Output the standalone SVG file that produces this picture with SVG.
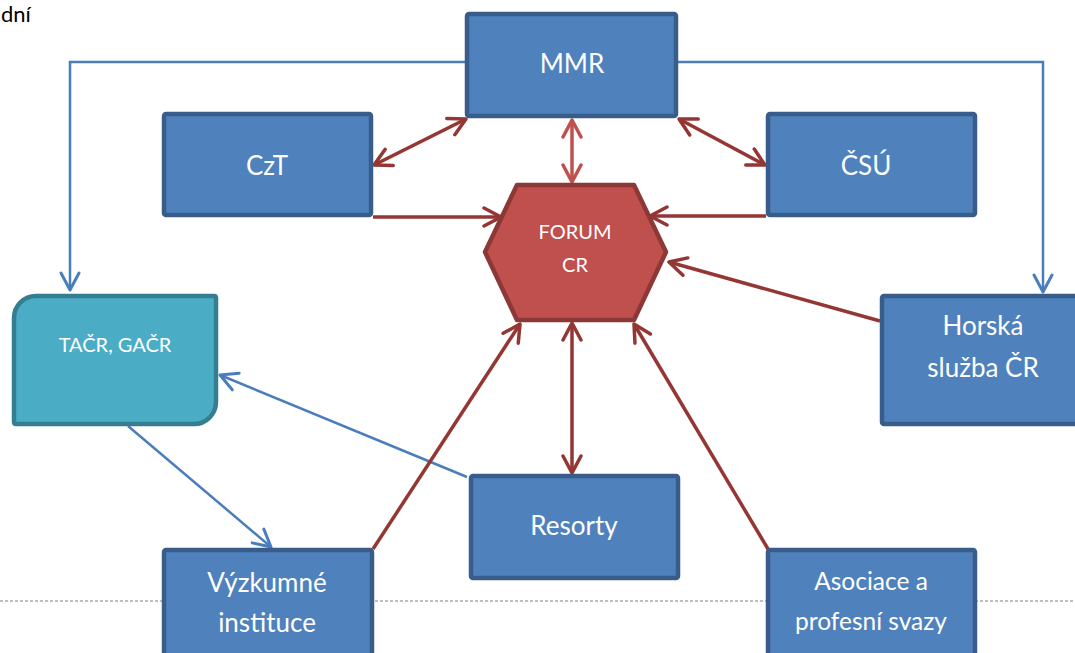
<svg xmlns="http://www.w3.org/2000/svg" width="1075" height="653" viewBox="0 0 1075 653">
  <style>
    .box { fill: #4f81bd; stroke: #385d8a; stroke-width: 4.5; }
    .lbl { font-family: Lato, "Open Sans", "Liberation Sans", sans-serif; fill: #ffffff; text-anchor: middle; }
    .big { font-size: 26px; }
    .mid { font-size: 24.5px; }
    .sm { font-size: 20px; }
    .red { stroke: #943634; stroke-width: 3.5; fill: none; }
    .redL { stroke: #c0504d; stroke-width: 3.5; fill: none; }
    .blue { stroke: #4a7ebb; stroke-width: 2.5; fill: none; }
  </style>
  <defs>
    <marker id="aRed" viewBox="0 0 22 22" refX="19" refY="11" markerWidth="22" markerHeight="22" markerUnits="userSpaceOnUse" orient="auto-start-reverse">
      <path d="M2,2 L19,11 L2,20" fill="none" stroke="#943634" stroke-width="3.5" stroke-linecap="round" stroke-linejoin="round"/>
    </marker>
    <marker id="aRedL" viewBox="0 0 22 22" refX="19" refY="11" markerWidth="22" markerHeight="22" markerUnits="userSpaceOnUse" orient="auto-start-reverse">
      <path d="M2,2 L19,11 L2,20" fill="none" stroke="#c0504d" stroke-width="3.5" stroke-linecap="round" stroke-linejoin="round"/>
    </marker>
    <marker id="aBlue" viewBox="0 0 22 22" refX="19" refY="11" markerWidth="22" markerHeight="22" markerUnits="userSpaceOnUse" orient="auto-start-reverse">
      <path d="M2,2 L19,11 L2,20" fill="none" stroke="#4a7ebb" stroke-width="3" stroke-linecap="round" stroke-linejoin="round"/>
    </marker>
  </defs>

  <rect width="1075" height="653" fill="#ffffff"/>

  <!-- page fragment and separator line -->
  <text x="1" y="22" font-family="Lato, 'Open Sans', sans-serif" font-size="22" fill="#000000">dní</text>
  <line x1="0" y1="601" x2="1075" y2="601" stroke="#7f7f7f" stroke-width="1" stroke-dasharray="3,2"/>

  <g id="connectors">
    <!-- blue flows -->
    <polyline class="blue" points="467,62 70,62 70,290" marker-end="url(#aBlue)"/>
    <polyline class="blue" points="676,62 1043,62 1043,292" marker-end="url(#aBlue)"/>
    <line class="blue" x1="467" y1="477" x2="220" y2="375" marker-end="url(#aBlue)"/>
    <line class="blue" x1="128" y1="426" x2="271" y2="547" stroke-width="3.5" marker-end="url(#aBlue)"/>
    <!-- red links around the forum -->
    <line class="red" x1="466" y1="119" x2="374" y2="165" marker-start="url(#aRed)" marker-end="url(#aRed)"/>
    <line class="redL" x1="572" y1="120" x2="572" y2="182" marker-start="url(#aRedL)" marker-end="url(#aRedL)"/>
    <line class="red" x1="679" y1="119" x2="765" y2="165" marker-start="url(#aRed)" marker-end="url(#aRed)"/>
    <line class="red" x1="373" y1="217" x2="501" y2="217" marker-end="url(#aRed)"/>
    <line class="red" x1="766" y1="216" x2="650" y2="216" marker-end="url(#aRed)"/>
    <line class="red" x1="880" y1="321" x2="669" y2="262" marker-end="url(#aRed)"/>
    <line class="red" x1="373" y1="549" x2="520" y2="324" marker-end="url(#aRed)"/>
    <line class="red" x1="572" y1="323" x2="572" y2="473" marker-start="url(#aRed)" marker-end="url(#aRed)"/>
    <line class="red" x1="768" y1="549" x2="634" y2="324" marker-end="url(#aRed)"/>
  </g>

  <g id="mmr">
    <rect class="box" x="467" y="14" width="209" height="102" rx="2"/>
    <text class="lbl big" x="572" y="73">MMR</text>
  </g>
  <g id="czt">
    <rect class="box" x="164" y="114" width="207" height="101" rx="2"/>
    <text class="lbl big" x="267" y="175">CzT</text>
  </g>
  <g id="csu">
    <rect class="box" x="768" y="114" width="207" height="101" rx="2"/>
    <text class="lbl big" x="866" y="175">ČSÚ</text>
  </g>
  <g id="forum">
    <polygon points="517,185 634,185 666,252 634,320 517,320 485,252" fill="#c0504d" stroke="#8c3836" stroke-width="4.5" stroke-linejoin="round"/>
    <text class="lbl sm" x="575" y="239">FORUM</text>
    <text class="lbl sm" x="575" y="272">CR</text>
  </g>
  <g id="tacr">
    <path d="M36,296 H214 Q216,296 216,298 V402 A22,22 0 0 1 194,424 H16 Q14,424 14,422 V318 A22,22 0 0 1 36,296 Z" fill="#4bacc6" stroke="#357d91" stroke-width="4.5"/>
    <text class="lbl sm" x="115" y="352">TAČR, GAČR</text>
  </g>
  <g id="horska">
    <rect class="box" x="882" y="296" width="200" height="128" rx="2"/>
    <text class="lbl big" x="983" y="335">Horská</text>
    <text class="lbl big" x="983" y="377">služba ČR</text>
  </g>
  <g id="resorty">
    <rect class="box" x="471" y="476" width="207" height="102" rx="2"/>
    <text class="lbl big" x="574" y="535">Resorty</text>
  </g>
  <g id="vyzkumne">
    <rect class="box" x="164" y="550" width="208" height="110" rx="2"/>
    <text class="lbl big" x="267" y="592">Výzkumné</text>
    <text class="lbl big" x="267" y="632">instituce</text>
  </g>
  <g id="asociace">
    <rect class="box" x="768" y="550" width="207" height="110" rx="2"/>
    <text class="lbl mid" x="871" y="590">Asociace a</text>
    <text class="lbl mid" x="871" y="630">profesní svazy</text>
  </g>
</svg>
